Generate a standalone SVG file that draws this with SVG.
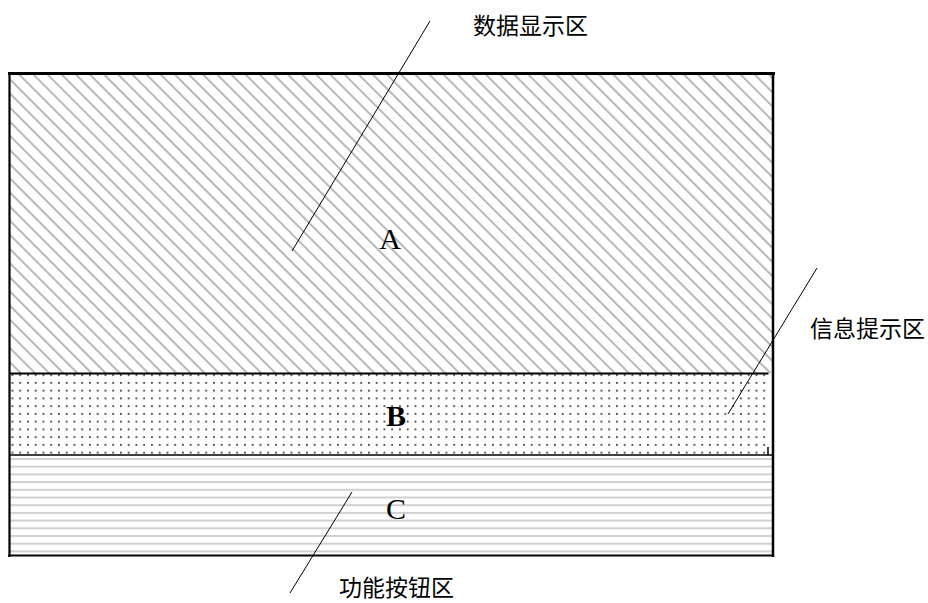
<svg xmlns="http://www.w3.org/2000/svg" width="928" height="603" viewBox="0 0 928 603">
<defs>
<style>
.frame{stroke:#000;fill:none}
.leader{stroke:#000;stroke-width:1;fill:none}
.cjk{font-family:"Noto Sans CJK SC","Noto Sans CJK JP",sans-serif;font-size:23px;fill:#000}
.lbl{font-family:"Liberation Serif","Times New Roman",serif;font-size:30px;fill:#000;text-anchor:middle}
</style>
<pattern id="diag" patternUnits="userSpaceOnUse" width="10" height="10" patternTransform="rotate(-45)">
<rect width="10" height="10" fill="#fff"/>
<line x1="0" y1="0" x2="0" y2="10" stroke="#b0b0b0" stroke-width="3.6"/>
</pattern>
<pattern id="dots" patternUnits="userSpaceOnUse" x="11.5" y="374.2" width="7.75" height="7.75">
<rect width="7.75" height="7.75" fill="#fff"/>
<rect x="0" y="0" width="1.8" height="1.8" fill="#444"/>
</pattern>
<pattern id="horiz" patternUnits="userSpaceOnUse" x="0" y="458" width="10" height="7.7">
<rect width="10" height="7.7" fill="#fff"/>
<rect x="0" y="0" width="10" height="2" fill="#d0d0d0"/>
</pattern>
</defs>
<g id="node-A">
<rect x="9" y="74" width="764" height="299" fill="url(#diag)"/>
<text class="lbl" x="390" y="249">A</text>
</g>
<g id="node-B">
<rect x="10" y="374" width="758" height="81" fill="url(#dots)"/>
<text class="lbl" x="396" y="426" font-weight="bold">B</text>
</g>
<g id="node-C">
<rect x="9" y="455" width="764" height="100" fill="url(#horiz)"/>
<text class="lbl" x="396" y="519">C</text>
</g>
<g id="frame">
<line class="frame" x1="8" y1="73.5" x2="775" y2="73.5" stroke-width="3"/>
<line class="frame" x1="9.5" y1="72" x2="9.5" y2="557" stroke-width="2.2"/>
<line class="frame" x1="773" y1="72" x2="773" y2="557" stroke-width="2.5"/>
<line class="frame" x1="9" y1="373.5" x2="768.5" y2="373.5" stroke-width="2"/>
<line class="frame" x1="768" y1="447" x2="768" y2="455" stroke-width="1.5"/>
<line class="frame" x1="9" y1="455" x2="773" y2="455" stroke-width="1.5"/>
<line class="frame" x1="8" y1="555.5" x2="774" y2="555.5" stroke-width="2.2"/>
</g>
<g id="connectors">
<line class="leader" x1="430" y1="21" x2="292" y2="251"/>
<line class="leader" x1="817" y1="268" x2="728" y2="414"/>
<line class="leader" x1="352" y1="492" x2="290" y2="593"/>
</g>
<g id="labels">
<text class="cjk" x="473" y="34">数据显示区</text>
<text class="cjk" x="810" y="337">信息提示区</text>
<text class="cjk" x="339" y="596">功能按钮区</text>
</g>
</svg>
